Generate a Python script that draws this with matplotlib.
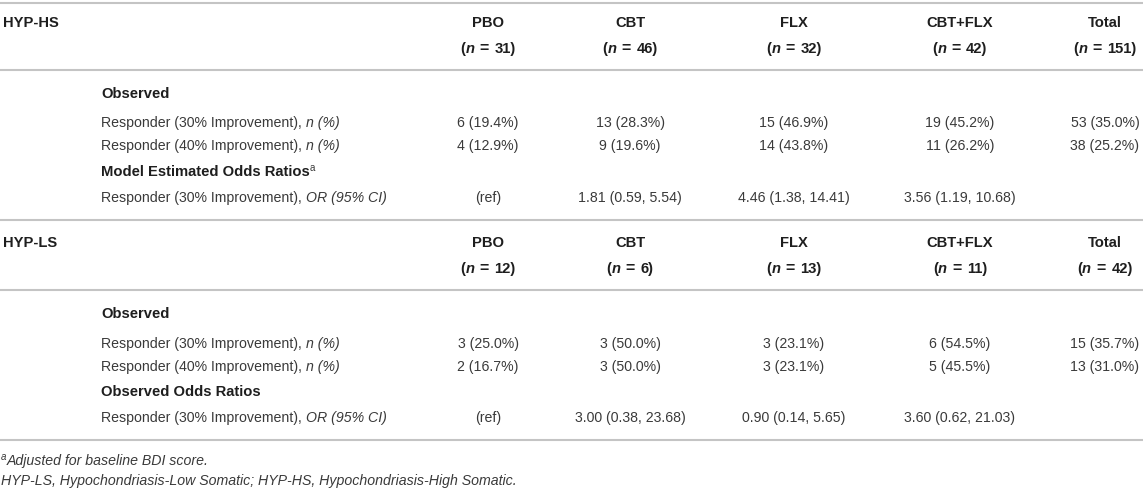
import matplotlib
matplotlib.use("Agg")
import matplotlib.pyplot as plt

# ---------------- data ----------------
arms = ["PBO", "CBT", "FLX", "CBT+FLX", "Total"]
groups = ["HYP-HS", "HYP-LS"]
n_hs = [31, 46, 32, 42, 151]
n_ls = [12, 6, 13, 11, 42]

hs_r30_n = [6, 13, 15, 19, 53]
hs_r30_pct = [19.4, 28.3, 46.9, 45.2, 35.0]
hs_r40_n = [4, 9, 14, 11, 38]
hs_r40_pct = [12.9, 19.6, 43.8, 26.2, 25.2]
hs_or = [None, 1.81, 4.46, 3.56, None]
hs_or_lo = [None, 0.59, 1.38, 1.19, None]
hs_or_hi = [None, 5.54, 14.41, 10.68, None]

ls_r30_n = [3, 3, 3, 6, 15]
ls_r30_pct = [25.0, 50.0, 23.1, 54.5, 35.7]
ls_r40_n = [2, 3, 3, 5, 13]
ls_r40_pct = [16.7, 50.0, 23.1, 45.5, 31.0]
ls_or = [None, 3.00, 0.90, 3.60, None]
ls_or_lo = [None, 0.38, 0.14, 0.62, None]
ls_or_hi = [None, 23.68, 5.65, 21.03, None]

or_titles = ["Model Estimated Odds Ratios", "Observed Odds Ratios"]
footnote_a = "Adjusted for baseline BDI score."
footnote_2 = "HYP-LS, Hypochondriasis-Low Somatic; HYP-HS, Hypochondriasis-High Somatic."

# ---------------- layout ----------------
W, H = 1143, 488
fig = plt.figure(figsize=(W / 100, H / 100), dpi=100)
ax = fig.add_axes([0, 0, 1, 1])
ax.set_xlim(0, W)
ax.set_ylim(H, 0)
ax.axis("off")
renderer = fig.canvas.get_renderer()

FONT = "Liberation Sans"
SIZE = 10.2
HSIZE = 10.6
BASE = 5.0
BODY = "#3a3a3a"
HEAD = "#1e1e1e"
LINE = "#c4c4c4"

col_x = [488, 630, 794, 960, 1105]
label_x = 101


def text_width(s, kw):
    t = ax.text(0, 0, s + "|", fontfamily=FONT, **kw)
    t2 = ax.text(0, 0, "|", fontfamily=FONT, **kw)
    w = t.get_window_extent(renderer).width - t2.get_window_extent(renderer).width
    t.remove()
    t2.remove()
    return w


def runs(x, y, parts, ha="left", color=BODY):
    items = []
    for s, kw in parts:
        k = dict(fontsize=SIZE, color=color)
        k.update(kw)
        dy = k.pop("dy", 0)
        items.append((s, k, dy, text_width(s, k)))
    total = sum(it[3] for it in items)
    x0 = x - total / 2 if ha == "center" else (x - total if ha == "right" else x)
    for s, k, dy, w in items:
        ax.text(x0, y + BASE - dy, s, fontfamily=FONT, va="baseline", ha="left", **k)
        x0 += w


def hline(y):
    ax.plot([0, W], [y, y], color=LINE, lw=1.5, solid_capstyle="butt")


B = {"fontweight": "bold"}
HB = {"fontweight": "bold", "fontsize": HSIZE}
HBI = {"fontweight": "bold", "style": "italic", "fontsize": HSIZE}
SP = {"fontweight": "bold", "fontsize": 14}
EQ = {"fontweight": "bold", "fontsize": 11.5}
I = {"style": "italic"}


def section(y0, group, ns, r30n, r30p, r40n, r40p, orv, lo, hi, or_title, sup, dl):
    runs(3, y0 + 19, [(group, HB)], color=HEAD)
    for x, a, n in zip(col_x, arms, ns):
        runs(x, y0 + 19, [(a, HB)], ha="center", color=HEAD)
        runs(x, y0 + 45, [("(", HB), ("n", HBI), (" ", SP), ("=", EQ), (" ", SP),
                          ("%d)" % n, HB)], ha="center", color=HEAD)
    hline(y0 + 67)
    runs(label_x, y0 + 90, [("Observed", HB)], color=HEAD)
    yy = [y0 + 119 + dl, y0 + 142 + dl]
    runs(label_x, yy[0], [("Responder (30% Improvement), ", {}), ("n (%)", I)])
    runs(label_x, yy[1], [("Responder (40% Improvement), ", {}), ("n (%)", I)])
    for x, n, p in zip(col_x, r30n, r30p):
        runs(x, yy[0], [("%d (%.1f%%)" % (n, p), {})], ha="center")
    for x, n, p in zip(col_x, r40n, r40p):
        runs(x, yy[1], [("%d (%.1f%%)" % (n, p), {})], ha="center")
    parts = [(or_title, HB)]
    if sup:
        parts.append(("a", {"fontsize": 7, "dy": 5, "color": BODY}))
    runs(label_x, y0 + 168, parts, color=HEAD)
    runs(label_x, y0 + 194, [("Responder (30% Improvement), ", {}), ("OR (95% CI)", I)])
    for i, x in enumerate(col_x):
        if i == 0:
            runs(x, y0 + 194, [("(ref)", {})], ha="center")
        elif orv[i] is not None:
            runs(x, y0 + 194, [("%.2f (%.2f, %.2f)" % (orv[i], lo[i], hi[i]), {})], ha="center")


hline(3)
section(3, groups[0], n_hs, hs_r30_n, hs_r30_pct, hs_r40_n, hs_r40_pct,
        hs_or, hs_or_lo, hs_or_hi, or_titles[0], True, 0)
hline(220)
section(223, groups[1], n_ls, ls_r30_n, ls_r30_pct, ls_r40_n, ls_r40_pct,
        ls_or, ls_or_lo, ls_or_hi, or_titles[1], False, 1)
hline(440)

runs(1, 460, [("a", {"fontsize": 7, "dy": 5, "style": "italic"}), (footnote_a, I)], color=BODY)
runs(1, 480, [(footnote_2, I)], color=BODY)

fig.savefig("out.png", dpi=100, facecolor="white")
